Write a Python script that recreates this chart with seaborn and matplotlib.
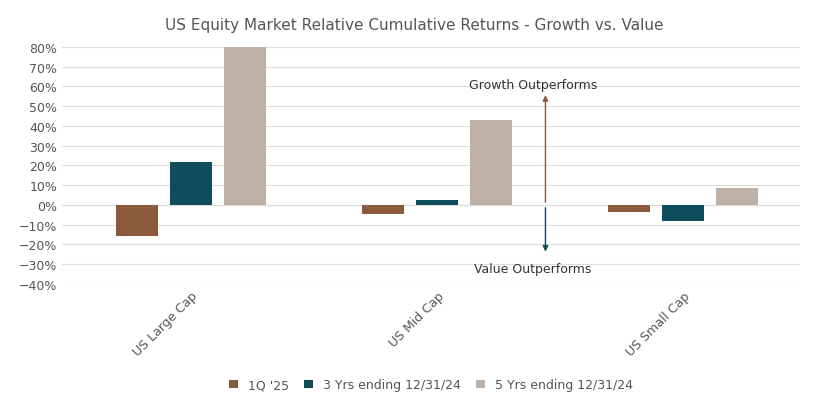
import matplotlib
matplotlib.use("Agg")
import matplotlib.pyplot as plt
import pandas as pd
import seaborn as sns
from matplotlib.ticker import PercentFormatter

categories = ["US Large Cap", "US Mid Cap", "US Small Cap"]
series_names = ["1Q '25", "3 Yrs ending 12/31/24", "5 Yrs ending 12/31/24"]
q1_25 = [-15.5, -4.5, -3.5]
yrs3 = [21.5, 2.5, -8.0]
yrs5 = [80.0, 43.0, 8.5]
colors = ["#8B5A3C", "#0F4C5C", "#BFB0A6"]

df = pd.DataFrame({
    "category": categories * 3,
    "series": [s for s in series_names for _ in categories],
    "value": q1_25 + yrs3 + yrs5,
})

sns.set_theme(style="white", font="DejaVu Sans")
fig = plt.figure(figsize=(8.29, 4.06), dpi=100)
ax = fig.add_axes([0.075, 0.298, 0.89, 0.584])
sns.barplot(data=df, x="category", y="value", hue="series", palette=colors,
            width=0.66, gap=0.22, saturation=1, linewidth=0, ax=ax, legend=True)

ax.set_ylim(-40, 80)
ax.set_yticks(range(-40, 81, 10))
ax.yaxis.set_major_formatter(PercentFormatter(decimals=0))
ax.set_xlim(-0.525, 2.475)
ax.grid(axis="y", color="#DDDDDD", linewidth=0.8)
ax.set_axisbelow(True)
for s in ax.spines.values():
    s.set_visible(False)
ax.axhline(0, color="#CCCCCC", linewidth=0.8, zorder=0)
ax.set_xlabel("")
ax.set_ylabel("")
ax.tick_params(axis="both", colors="#555555", labelsize=9, length=0)
plt.setp(ax.get_xticklabels(), rotation=45, ha="right", rotation_mode="anchor")

ax.annotate("", xy=(1.44, 57), xytext=(1.44, 0),
            arrowprops=dict(arrowstyle="-|>", color="#8B5A3C", lw=1.0, mutation_scale=8))
ax.annotate("", xy=(1.44, -25), xytext=(1.44, 0),
            arrowprops=dict(arrowstyle="-|>", color="#0F4C5C", lw=1.0, mutation_scale=8))
ax.text(1.39, 61, "Growth Outperforms", ha="center", va="center", fontsize=9, color="#333333")
ax.text(1.39, -32, "Value Outperforms", ha="center", va="center", fontsize=9, color="#333333")

fig.suptitle("US Equity Market Relative Cumulative Returns - Growth vs. Value",
             y=0.955, fontsize=11, color="#555555")
ax.legend(loc="lower center", bbox_to_anchor=(0.5, -0.5), ncol=3, frameon=False,
          fontsize=9, handlelength=0.7, handleheight=0.7, columnspacing=1.2,
          labelcolor="#555555")

fig.savefig("out.png", dpi=100)
